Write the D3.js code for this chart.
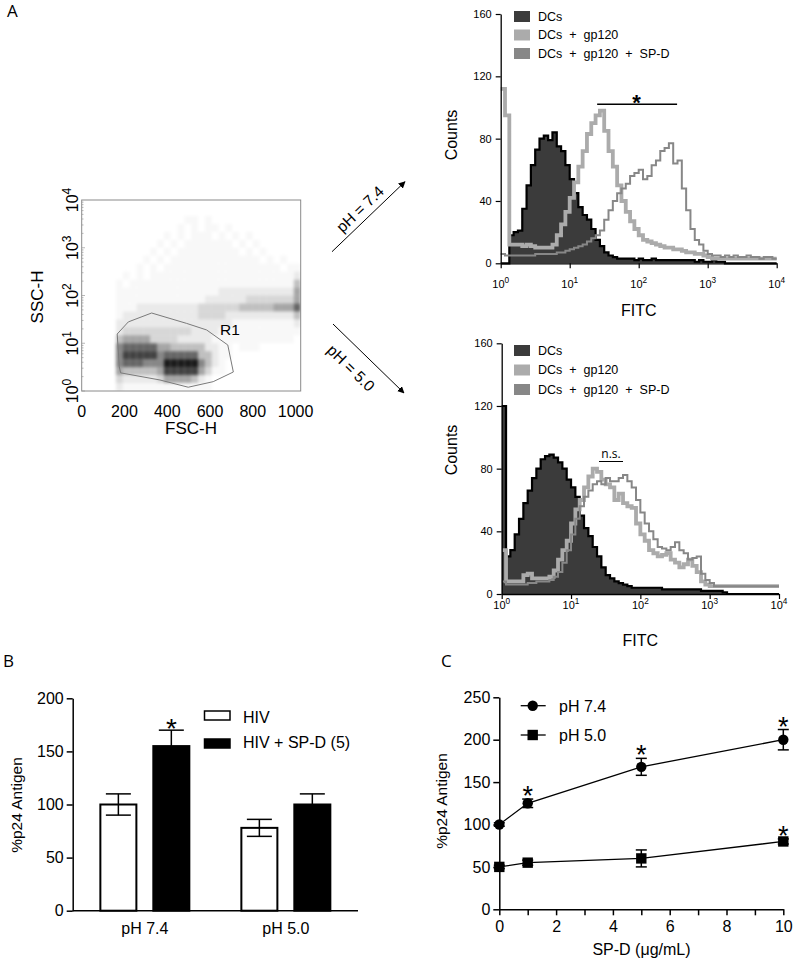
<!DOCTYPE html>
<html><head><meta charset="utf-8">
<script src="https://cdn.jsdelivr.net/npm/d3@7"></script>
<style>body{margin:0;background:#fff}svg{display:block;font-family:"Liberation Sans",Arial,Helvetica,sans-serif}</style>
</head><body>
<svg id="c" width="796" height="967"></svg>
<script>
// ================= DATA =================
// Panel A (left): FSC/SSC dot-plot density (rows from top = high SSC, 32 FSC columns), digits 0-9
const scatterDensity = [
  "00000000000000000000000000000000",
  "00000000000000000000000000000000",
  "00000000000000011010000000000000",
  "00000000000000101011010000000000",
  "00000000000010101110101010000000",
  "00000000000101011111110101000000",
  "00000000001010111111111010100000",
  "00000000010101111111111111010100",
  "00000000101011111111111111111011",
  "00000010101111111111111111111112",
  "00000101111111111111111111111114",
  "00000111111111111111222222222225",
  "00000111111111111122222233333335",
  "00000111222222222333333444445557",
  "00000122222222222333322222222224",
  "00000222222222222222221111111112",
  "00000233333333332222111111111111",
  "00000455553333222221111111111110",
  "00000677777554444422110111000000",
  "00000688888677777442110000000000",
  "00000677766699999642100000000000",
  "00000544444588888531100000000000",
  "00000322222355554210000000000000",
  "00000211111111111110000000000000"
];
const gateFSC = [166, 218, 327, 491, 584, 683, 709, 615, 498, 366, 182, 176];
const gateSSC = [15.6, 28, 43, 26, 19, 9.2, 2.5, 1.57, 1.2, 1.7, 2.4, 3.2];
const scatterTicksX = [0, 200, 400, 600, 800, 1000];
const scatterTicksY = [1, 10, 100, 1000, 10000];

// Panel A histograms: counts per log bin (16 bins / decade, 10^0..10^4)
const histSeries = ["DCs", "DCs + gp120", "DCs + gp120 + SP-D"];
const dcTop = [0,0,18,20,21,35,50,63,73,80, 82,79,84,75,72,63,54,45,36,31, 28,22,15,11,7,5,4,3,3,3, 3,2,3,2,2,3,2,2,2,2, 2,2,2,2,2,1,2,1,1,2, 1,1,0,0,0,0,0,0,0,0, 0,0,0,0];
const gpTop = [112,95,12,12,12,11,12,11,10,10, 10,10,12,18,25,33,42,52,62,72, 83,90,95,98,85,72,62,50,40,33, 27,22,18,15,14,13,12,11,10,10, 9,9,8,7,7,6,6,5,4,3, 3,3,3,3,3,3,3,3,3,3, 3,3,3,3];
const spTop = [6,5,5,5,5,5,5,5,6,6, 6,6,6,7,7,8,9,10,11,12, 14,16,18,21,28,34,40,45,48,51, 56,58,60,54,56,63,66,72,74,77, 64,66,48,34,22,15,12,8,6,5, 5,4,5,4,5,4,4,5,4,4, 3,4,4,3];
const dcBot = [120,24,28,38,48,58,66,74,80,86, 88,89,87,84,80,73,68,62,50,42, 37,30,24,17,12,10,8,7,6,5, 4,4,4,4,4,4,4,3,3,3, 3,3,3,3,3,3,2,2,2,2, 2,1,0,0,0,0,0,0,0,0, 0,0,0,0];
const gpBot = [28,8,8,8,8,12,13,10,10,10, 10,11,15,22,28,34,45,54,60,68, 75,80,78,73,70,68,60,64,58,56, 55,45,38,34,28,26,24,25,26,22, 20,17,19,22,18,14,8,6,5,5, 5,5,5,5,5,5,5,5,5,5, 5,5,5,5];
const spBot = [8,6,6,6,6,6,7,7,8,8, 8,9,11,14,20,28,38,48,56,62, 66,70,72,70,74,72,72,74,76,72, 68,60,52,45,40,35,30,29,28,30, 33,28,26,22,23,24,13,9,7,5, 5,5,5,5,5,5,5,5,5,5, 5,5,5,5];
const histTicksX = [1, 10, 100, 1000, 10000];
const histTicksY = [0, 40, 80, 120, 160];

// Panel B
const bGroups = ["pH 7.4", "pH 5.0"];
const bSeries = ["HIV", "HIV + SP-D (5)"];
const bHIV = [100, 78];
const bHIVerr = [10, 8];
const bSPD = [155, 100];
const bSPDerr = [15, 10];
const bSig = [[false, true], [false, false]];
const bTicks = [0, 50, 100, 150, 200];

// Panel C
const cDose = [0, 1, 5, 10];
const cSeries = ["pH 7.4", "pH 5.0"];
const c74 = [100, 125, 168, 200];
const c74err = [2, 5, 10, 12];
const c50 = [50, 55, 60, 80];
const c50err = [2, 3, 10, 3];
const c74sig = [false, true, true, true];
const c50sig = [false, false, false, true];
const cTicksY = [0, 50, 100, 150, 200, 250];
const cTicksX = [0, 1, 2, 3, 4, 5, 6, 7, 8, 9, 10];

// ================= DRAW =================
const F = "Liberation Sans, Arial, Helvetica, sans-serif";
const F2 = "Open Sans, DejaVu Sans, sans-serif";
const svg = d3.select("#c");
const defs = svg.append("defs");
defs.append("marker").attr("id", "arr").attr("viewBox", "0 0 10 10").attr("refX", 9).attr("refY", 5)
  .attr("markerWidth", 7).attr("markerHeight", 7).attr("markerUnits", "userSpaceOnUse").attr("orient", "auto")
  .append("path").attr("d", "M0,0L10,5L0,10Z").attr("fill", "#000");
defs.append("filter").attr("id", "soft").attr("x", "-5%").attr("y", "-5%").attr("width", "110%").attr("height", "110%")
  .append("feGaussianBlur").attr("stdDeviation", 1.8);
defs.append("clipPath").attr("id", "boxclip").append("rect").attr("x", 82).attr("y", 200).attr("width", 219).attr("height", 191);

// Panel letters
svg.append("text").attr("x", 7).attr("y", 17).style("font-family", F2).attr("font-size", 17).text("A");
svg.append("text").attr("x", 3).attr("y", 667).style("font-family", F2).attr("font-size", 17).text("B");
svg.append("text").attr("x", 441).attr("y", 667).style("font-family", F2).attr("font-size", 17).text("C");

function supText(sel, base, exp, fs) {
  sel.append("tspan").text(base);
  sel.append("tspan").attr("dy", -fs * 0.42).attr("font-size", fs * 0.75).text(exp);
}

// ---------- Panel A scatter ----------
{
  const x = d3.scaleLinear().domain([0, 1024]).range([81.7, 300.7]);
  const y = d3.scaleLog().domain([1, 10000]).range([391, 200]);
  const nCols = 32, nRows = scatterDensity.length;
  const g = svg.append("g").attr("clip-path", "url(#boxclip)").append("g").attr("filter", "url(#soft)");
  scatterDensity.forEach((row, r) => {
    const s = row.padEnd(nCols, "0");
    for (let c = 0; c < nCols; c++) {
      const d = +s[c];
      if (!d) continue;
      const f0 = c * 1024 / nCols, f1 = (c + 1) * 1024 / nCols;
      const l0 = 4 - r * 4 / nRows, l1 = 4 - (r + 1) * 4 / nRows;
      g.append("rect").attr("x", x(f0)).attr("width", x(f1) - x(f0))
        .attr("y", y(Math.pow(10, l0))).attr("height", y(Math.pow(10, l1)) - y(Math.pow(10, l0)))
        .attr("fill", "#000").attr("opacity", Math.pow(d / 9, 1.6) * 0.9);
    }
  });
  svg.append("rect").attr("x", 81.7).attr("y", 200).attr("width", 219).attr("height", 191)
    .attr("fill", "none").attr("stroke", "#8a8a8a").attr("stroke-width", 1);
  for (let dec = 0; dec < 4; dec++) for (let k = 1; k <= 9; k++) {
    const v = k * Math.pow(10, dec);
    svg.append("line").attr("x1", 81.7).attr("x2", k === 1 ? 85 : 83.5).attr("y1", y(v)).attr("y2", y(v))
      .attr("stroke", "#999").attr("stroke-width", 0.7);
  }
  const gate = gateFSC.map((f, i) => [x(f), y(gateSSC[i])]);
  svg.append("path").attr("d", d3.line().curve(d3.curveLinearClosed)(gate))
    .attr("fill", "none").attr("stroke", "#7a7a7a").attr("stroke-width", 1);
  svg.append("text").attr("x", 220).attr("y", 335).attr("font-size", 15.5).text("R1");
  scatterTicksY.forEach((v, i) => {
    const t = svg.append("text").attr("transform", `translate(78,${y(v)}) rotate(-90)`)
      .attr("text-anchor", "middle").attr("font-size", 16);
    supText(t, "10", String(i), 16);
  });
  scatterTicksX.forEach(v => {
    svg.append("text").attr("x", x(v)).attr("y", 416.5).attr("text-anchor", "middle").attr("font-size", 16).text(v);
  });
  svg.append("text").attr("transform", "translate(43,297) rotate(-90)").attr("text-anchor", "middle")
    .attr("font-size", 17).text("SSC-H");
  svg.append("text").attr("x", 191).attr("y", 434).attr("text-anchor", "middle").attr("font-size", 17).text("FSC-H");
}

// ---------- Arrows ----------
svg.append("line").attr("x1", 332).attr("y1", 251.7).attr("x2", 405).attr("y2", 181.7)
  .attr("stroke", "#000").attr("stroke-width", 1).attr("marker-end", "url(#arr)");
svg.append("text").attr("transform", "translate(360,209) rotate(-43.7)").attr("text-anchor", "middle")
  .attr("dy", "0.35em").attr("font-size", 15.5).text("pH = 7.4");
svg.append("line").attr("x1", 333).attr("y1", 324).attr("x2", 404).attr("y2", 393)
  .attr("stroke", "#000").attr("stroke-width", 1).attr("marker-end", "url(#arr)");
svg.append("text").attr("transform", "translate(351,368) rotate(44.2)").attr("text-anchor", "middle")
  .attr("dy", "0.35em").attr("font-size", 15.5).text("pH = 5.0");

// ---------- Histograms ----------
const histColors = ["#3b3b3b", "#ababab", "#878787"];
function drawHist(p) {
  const g = svg.append("g");
  const x = d3.scaleLog().domain([1, 1e4]).range(p.xr);
  const y = d3.scaleLinear().domain([0, 160]).range(p.yr);
  const pts = arr => {
    const bpd = arr.length / 4;
    return arr.map((v, i) => [Math.pow(10, i / bpd), v]).concat([[1e4, arr[arr.length - 1]]]);
  };
  const area = d3.area().curve(d3.curveStepAfter).x(d => x(d[0])).y0(y(0)).y1(d => y(d[1]));
  const line = d3.line().curve(d3.curveStepAfter).x(d => x(d[0])).y(d => y(d[1]));
  g.append("path").attr("d", area(pts(p.dc))).attr("fill", histColors[0]);
  g.append("path").attr("d", line(pts(p.dc))).attr("fill", "none").attr("stroke", "#000").attr("stroke-width", 2.2);
  g.append("path").attr("d", line(pts(p.gp))).attr("fill", "none").attr("stroke", histColors[1]).attr("stroke-width", 3.8);
  g.append("path").attr("d", line(pts(p.sp))).attr("fill", "none").attr("stroke", histColors[2]).attr("stroke-width", 2);
  const ya = g.append("g").attr("transform", `translate(${p.xr[0]},0)`)
    .call(d3.axisLeft(y).tickValues(histTicksY).tickSize(5).tickPadding(4).tickSizeOuter(0));
  ya.selectAll("text").style("font-family", F).attr("font-size", 11);
  const xa = g.append("g").attr("transform", `translate(0,${p.yr[0]})`)
    .call(d3.axisBottom(x).tickValues(histTicksX).tickSize(5).tickFormat("").tickSizeOuter(0));
  [ya, xa].forEach(a => { a.select(".domain").attr("stroke-width", 1.3); a.selectAll("line").attr("stroke-width", 1.2); });
  histTicksX.forEach((v, i) => {
    const t = g.append("text").attr("x", x(v)).attr("y", p.xLabY).attr("text-anchor", "middle").attr("font-size", 11);
    supText(t, "10", String(i), 11);
  });
  g.append("text").attr("x", (p.xr[0] + p.xr[1]) / 2).attr("y", p.titleY).attr("text-anchor", "middle")
    .attr("font-size", 16).text("FITC");
  g.append("text").attr("transform", `translate(457,${p.countsY}) rotate(-90)`).attr("text-anchor", "middle")
    .attr("font-size", 16).text("Counts");
  histSeries.forEach((s, i) => {
    g.append("rect").attr("x", 514).attr("y", p.legY[i]).attr("width", 16).attr("height", 11).attr("fill", histColors[i]);
    g.append("text").attr("x", 538).attr("y", p.legY[i] + 9.5).attr("font-size", 12.5).attr("word-spacing", 3.5).text(s);
  });
  return { x, y, g };
}
const hTop = drawHist({ xr: [500.7, 776.7], yr: [263.3, 14], dc: dcTop, gp: gpTop, sp: spTop,
  xLabY: 288, titleY: 316, countsY: 135, legY: [11, 29.5, 48] });
hTop.g.append("line").attr("x1", hTop.x(25)).attr("x2", hTop.x(360)).attr("y1", 104.3).attr("y2", 104.3)
  .attr("stroke", "#000").attr("stroke-width", 1.5);
hTop.g.append("text").attr("x", 636.5).attr("y", 110).attr("text-anchor", "middle").attr("font-size", 22)
  .attr("font-weight", "bold").text("*");
const hBot = drawHist({ xr: [501.7, 779], yr: [594, 343.3], dc: dcBot, gp: gpBot, sp: spBot,
  xLabY: 609, titleY: 646, countsY: 450, legY: [345, 364.5, 384] });
hBot.g.append("text").attr("x", 611).attr("y", 458).attr("text-anchor", "middle").style("font-family", F2)
  .attr("font-size", 12).text("n.s.");
hBot.g.append("line").attr("x1", 599).attr("x2", 623).attr("y1", 461.5).attr("y2", 461.5).attr("stroke", "#000").attr("stroke-width", 1);

// ---------- Panel B ----------
{
  const y = d3.scaleLinear().domain([0, 200]).range([910.7, 698.3]);
  const x0 = d3.scaleBand().domain(bGroups).range([72.7, 358]).paddingInner(0.0234).paddingOuter(0.0234);
  const x1 = d3.scaleBand().domain(bSeries).range([0, x0.bandwidth()]).paddingInner(0.32).paddingOuter(0.46);
  const g = svg.append("g");
  const vals = [bHIV, bSPD], errs = [bHIVerr, bSPDerr], fills = ["#fff", "#000"];
  bGroups.forEach((grp, gi) => {
    bSeries.forEach((s, si) => {
      const bx = x0(grp) + x1(s), bw = x1.bandwidth(), v = vals[si][gi], e = errs[si][gi];
      const cx = bx + bw / 2;
      g.append("line").attr("x1", cx).attr("x2", cx).attr("y1", y(v - e)).attr("y2", y(v + e)).attr("stroke", "#000").attr("stroke-width", 1.5);
      g.append("line").attr("x1", cx - 12.5).attr("x2", cx + 12.5).attr("y1", y(v + e)).attr("y2", y(v + e)).attr("stroke", "#000").attr("stroke-width", 1.5);
      g.append("rect").attr("x", bx).attr("width", bw).attr("y", y(v)).attr("height", y(0) - y(v))
        .attr("fill", fills[si]).attr("stroke", "#000").attr("stroke-width", 2);
      if (si === 0) {
        g.append("line").attr("x1", cx).attr("x2", cx).attr("y1", y(v - e)).attr("y2", y(v)).attr("stroke", "#000").attr("stroke-width", 1.5);
        g.append("line").attr("x1", cx - 12.5).attr("x2", cx + 12.5).attr("y1", y(v - e)).attr("y2", y(v - e)).attr("stroke", "#000").attr("stroke-width", 1.5);
      }
      if (bSig[gi][si]) {
        g.append("text").attr("x", cx).attr("y", y(v + e) + 8).attr("text-anchor", "middle").attr("font-size", 28).text("*");
      }
    });
    g.append("text").attr("x", x0(grp) + x0.bandwidth() / 2).attr("y", 934).attr("text-anchor", "middle").attr("font-size", 16).text(grp);
  });
  const ya = g.append("g").attr("transform", "translate(72.7,0)")
    .call(d3.axisLeft(y).tickValues(bTicks).tickSize(6).tickPadding(3).tickSizeOuter(0));
  ya.selectAll("text").style("font-family", F).attr("font-size", 16);
  ya.select(".domain").attr("stroke-width", 1.5); ya.selectAll("line").attr("stroke-width", 1.5);
  g.append("line").attr("x1", 72.7).attr("x2", 358).attr("y1", y(0)).attr("y2", y(0)).attr("stroke", "#000").attr("stroke-width", 1.5);
  g.append("text").attr("transform", "translate(22,805) rotate(-90)").attr("text-anchor", "middle").attr("font-size", 15.5).text("%p24 Antigen");
  bSeries.forEach((s, i) => {
    g.append("rect").attr("x", 204.5).attr("y", [711, 739][i]).attr("width", 25.5).attr("height", 9)
      .attr("fill", fills[i]).attr("stroke", "#000").attr("stroke-width", 1.5);
    g.append("text").attr("x", 243).attr("y", [723, 747.5][i]).attr("font-size", 16).text(s);
  });
}

// ---------- Panel C ----------
{
  const x = d3.scaleLinear().domain([0, 10]).range([499.3, 783.3]);
  const y = d3.scaleLinear().domain([0, 250]).range([909.3, 697.3]);
  const g = svg.append("g");
  const ya = g.append("g").attr("transform", "translate(499.3,0)")
    .call(d3.axisLeft(y).tickValues(cTicksY).tickSize(6).tickPadding(3).tickSizeOuter(0));
  const xa = g.append("g").attr("transform", "translate(0,909.3)")
    .call(d3.axisBottom(x).tickValues(cTicksX).tickSize(6).tickPadding(5).tickSizeOuter(0)
      .tickFormat(d => d % 2 === 0 ? d : ""));
  [ya, xa].forEach(a => {
    a.selectAll("text").style("font-family", F).attr("font-size", 16);
    a.select(".domain").attr("stroke-width", 1.5); a.selectAll("line").attr("stroke-width", 1.5);
  });
  g.append("text").attr("transform", "translate(446.5,801) rotate(-90)").attr("text-anchor", "middle").attr("font-size", 15.5).text("%p24 Antigen");
  g.append("text").attr("x", 641.5).attr("y", 955).attr("text-anchor", "middle").attr("font-size", 16).text("SP-D (μg/mL)");
  const series = [
    { v: c74, e: c74err, sig: c74sig, shape: "circle" },
    { v: c50, e: c50err, sig: c50sig, shape: "square" }
  ];
  const line = d3.line().x((d, i) => x(cDose[i])).y(d => y(d));
  series.forEach(s => {
    g.append("path").attr("d", line(s.v)).attr("fill", "none").attr("stroke", "#000").attr("stroke-width", 1.3);
    s.v.forEach((v, i) => {
      const cx = x(cDose[i]), e = s.e[i];
      g.append("line").attr("x1", cx).attr("x2", cx).attr("y1", y(v - e)).attr("y2", y(v + e)).attr("stroke", "#000").attr("stroke-width", 1.5);
      [v - e, v + e].forEach(w => g.append("line").attr("x1", cx - 5.5).attr("x2", cx + 5.5).attr("y1", y(w)).attr("y2", y(w)).attr("stroke", "#000").attr("stroke-width", 1.5));
      if (s.shape === "circle") g.append("circle").attr("cx", cx).attr("cy", y(v)).attr("r", 5.2).attr("fill", "#000");
      else g.append("rect").attr("x", cx - 5.2).attr("y", y(v) - 5.2).attr("width", 10.4).attr("height", 10.4).attr("fill", "#000");
      if (s.sig[i]) g.append("text").attr("x", cx).attr("y", y(v + e) + 6).attr("text-anchor", "middle").attr("font-size", 27).text("*");
    });
  });
  const lg = [[705.7, "circle"], [735, "square"]];
  cSeries.forEach((name, i) => {
    const ly = lg[i][0];
    g.append("line").attr("x1", 520.7).attr("x2", 545.7).attr("y1", ly).attr("y2", ly).attr("stroke", "#000").attr("stroke-width", 1.3);
    if (lg[i][1] === "circle") g.append("circle").attr("cx", 532.7).attr("cy", ly).attr("r", 5.2).attr("fill", "#000");
    else g.append("rect").attr("x", 527.5).attr("y", ly - 5.2).attr("width", 10.4).attr("height", 10.4).attr("fill", "#000");
    g.append("text").attr("x", 559).attr("y", ly + 6).attr("font-size", 16).text(name);
  });
}
</script>
</body></html>
